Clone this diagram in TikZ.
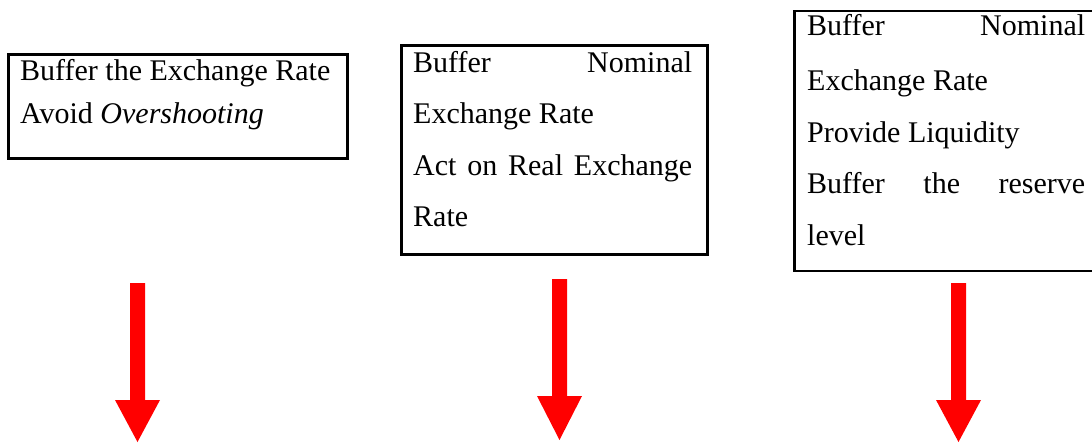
\documentclass[tikz,border=0pt]{standalone}
\usepackage{fontspec}
\setmainfont{Liberation Serif}
\begin{document}
\begin{tikzpicture}[x=1pt,y=-1pt,
  box/.style={draw=black,line width=2.5pt,anchor=north west,inner sep=0pt},
  line/.style={anchor=base west,inner sep=0pt,font=\fontsize{30}{30}\selectfont},
  redarrow/.style={fill=red,draw=none}]
\useasboundingbox (0,0) rectangle (1092,442);

% boxes
\node[box,minimum width=339pt,minimum height=104pt] (b1) at (7,53) {};
\node[box,minimum width=306pt,minimum height=209pt] (b2) at (400,44) {};
\node[box,minimum width=320pt,minimum height=260pt] (b3) at (793,9.5) {};

% box 1 text
\node[line] (t11) at (20,80) {Buffer the Exchange Rate};
\node[line] (t12) at (20,123) {Avoid \textit{Overshooting}};

% box 2 text
\node[line] (t21) at (413,72) {\makebox[279pt][s]{Buffer\hfill Nominal}};
\node[line] (t22) at (413,123) {Exchange Rate};
\node[line] (t23) at (413,175) {\makebox[279pt][s]{Act\hfill on\hfill Real\hfill Exchange}};
\node[line] (t24) at (413,226) {Rate};

% box 3 text
\node[line] (t31) at (807,35) {\makebox[278pt][s]{Buffer\hfill Nominal}};
\node[line] (t32) at (807,90) {Exchange Rate};
\node[line] (t33) at (807,142) {Provide Liquidity};
\node[line] (t34) at (807,193) {\makebox[278pt][s]{Buffer\hfill the\hfill reserve}};
\node[line] (t35) at (807,245) {level};

% red block arrows below the boxes
\fill[redarrow] (130,283) -- (145,283) -- (145,400) -- (160,400) -- (137.5,442) -- (115,400) -- (130,400) -- cycle;
\fill[redarrow] (552,279) -- (567,279) -- (567,396) -- (582,396) -- (559.5,440) -- (537,396) -- (552,396) -- cycle;
\fill[redarrow] (951,283) -- (966,283) -- (966,400) -- (981,400) -- (958.5,442) -- (936,400) -- (951,400) -- cycle;
\end{tikzpicture}
\end{document}
